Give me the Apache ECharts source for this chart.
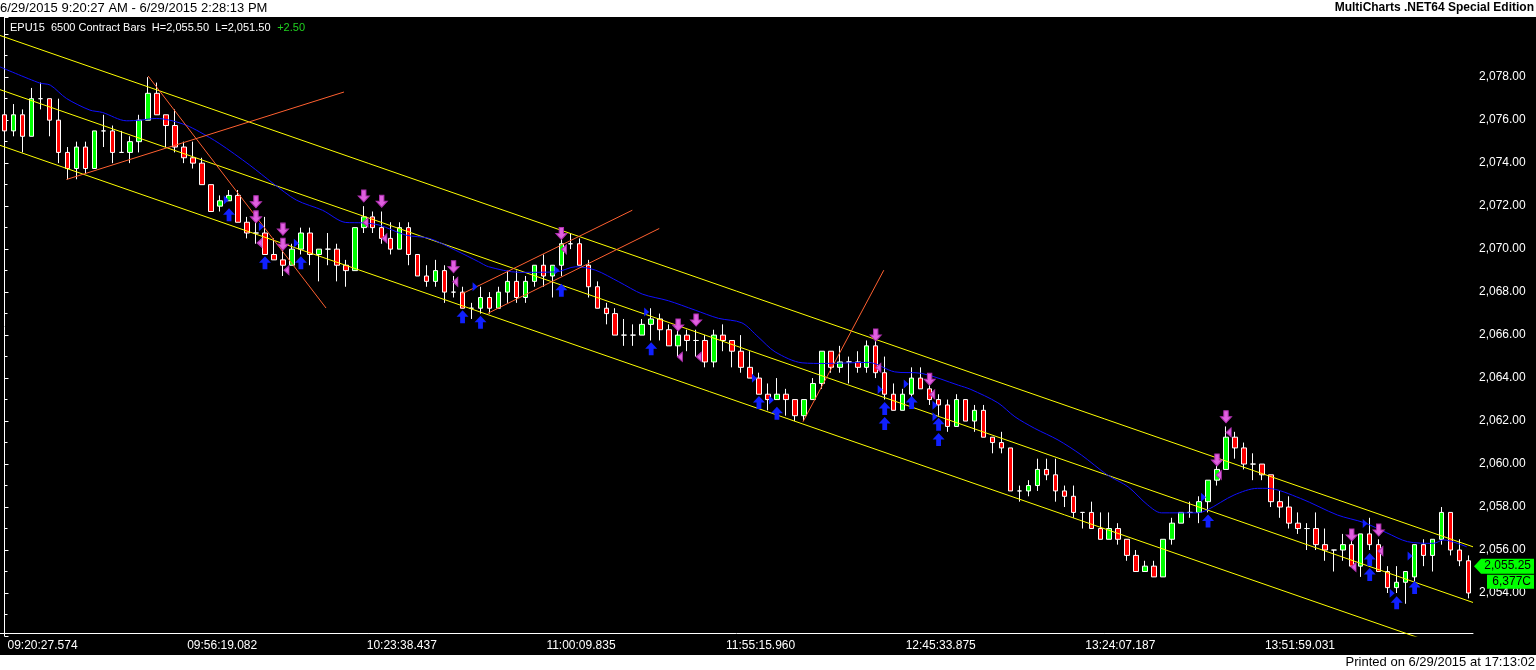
<!DOCTYPE html>
<html>
<head>
<meta charset="utf-8">
<script src="https://cdn.jsdelivr.net/npm/echarts@6/dist/echarts.min.js"></script>
<style>
  html, body { margin: 0; padding: 0; background: #000; }
  #chart { width: 1536px; height: 670px; }
</style>
</head>
<body>
<div id="chart"></div>
<script>
// EPU15 6500 contract bars, 6/29/2015
const openP = [
  2076.25, 2075.5, 2076.25, 2075.25, 2077, 2077, 2076, 2074.5, 2073.75, 2074.75,
  2073.75, 2075.5, 2075.5, 2074.5, 2074.5, 2075, 2076, 2077.25, 2076.25, 2075.75,
  2074.75, 2074.25, 2074, 2073, 2072, 2072.25, 2072.5, 2071.25, 2070.75, 2070.75,
  2069.75, 2069.5, 2069.25, 2070, 2070.75, 2069.75, 2070, 2070, 2069.25, 2069,
  2071, 2071.5, 2071, 2070.5, 2070, 2071, 2069.75, 2068.75, 2068.5, 2069,
  2068, 2068, 2067.25, 2067.25, 2067.75, 2067.25, 2068, 2068.5, 2067.75, 2068.5,
  2069.25, 2068.75, 2069.25, 2070.25, 2070.25, 2069.25, 2068.25, 2067.25, 2067, 2066,
  2066, 2066, 2066.5, 2066.75, 2066.25, 2065.5, 2066, 2065.75, 2065.75, 2064.75,
  2066, 2065.75, 2065.25, 2064.5, 2064, 2063.25, 2063, 2063.25, 2063, 2062.25,
  2063, 2063.75, 2065.25, 2064.5, 2064.75, 2064.75, 2064.5, 2065.5, 2064.25, 2063.25,
  2062.5, 2063.25, 2064, 2063.5, 2063, 2062.75, 2061.75, 2063, 2062, 2062.5,
  2061.25, 2061, 2060.75, 2058.75, 2058.75, 2059, 2059.75, 2059.5, 2058.75, 2058.5,
  2057.75, 2057.75, 2057, 2056.5, 2057, 2056.5, 2055.75, 2055, 2055.25, 2054.75,
  2056.5, 2057.25, 2057.75, 2057.75, 2058.25, 2059.25, 2059.75, 2061.25, 2060.75, 2060,
  2060, 2059.5, 2058.25, 2058, 2057.25, 2057, 2057, 2056.25, 2056, 2056,
  2056.25, 2055.25, 2056.75, 2056.25, 2055, 2054.25, 2054.5, 2054.75, 2056.25, 2055.75,
  2056.5, 2057.75, 2056, 2055.5
];
const closeP = [
  2075.5, 2076.25, 2075.25, 2077, 2077, 2076, 2074.5, 2073.75, 2074.75, 2073.75,
  2075.5, 2075.5, 2074.5, 2074.5, 2075, 2076, 2077.25, 2076.25, 2075.75, 2074.75,
  2074.25, 2074, 2073, 2071.75, 2072.25, 2072.5, 2071.25, 2070.75, 2070.75, 2069.75,
  2069.5, 2069.25, 2070, 2070.75, 2069.75, 2070, 2070, 2069.25, 2069, 2071,
  2071.5, 2071, 2070.5, 2070, 2071, 2069.75, 2068.75, 2068.5, 2069, 2068,
  2068, 2067.25, 2067.25, 2067.75, 2067.25, 2068, 2068.5, 2067.75, 2068.5, 2069.25,
  2068.75, 2069.25, 2070.25, 2070.25, 2069.25, 2068.25, 2067.25, 2067, 2066, 2066,
  2066, 2066.5, 2066.75, 2066.25, 2065.5, 2066, 2065.75, 2065.75, 2064.75, 2066,
  2065.75, 2065.25, 2064.5, 2064, 2063.25, 2063, 2063.25, 2063, 2062.25, 2063,
  2063.75, 2065.25, 2064.5, 2064.75, 2064.75, 2064.5, 2065.5, 2064.25, 2063.25, 2062.5,
  2063.25, 2064, 2063.5, 2063, 2062.75, 2061.75, 2063, 2062, 2062.5, 2061.25,
  2061, 2060.75, 2058.75, 2058.75, 2059, 2059.75, 2059.5, 2058.75, 2058.5, 2057.75,
  2057.75, 2057, 2056.5, 2057, 2056.5, 2055.75, 2055, 2055.25, 2054.75, 2056.5,
  2057.25, 2057.75, 2057.75, 2058.25, 2059.25, 2059.75, 2061.25, 2060.75, 2060, 2060,
  2059.5, 2058.25, 2058, 2057.25, 2057, 2057, 2056.25, 2056, 2056, 2056.25,
  2055.25, 2056.75, 2056.25, 2055, 2054.25, 2054.5, 2055, 2056.25, 2055.75, 2056.5,
  2057.75, 2056, 2055.5, 2054
];
const lowP = [
  2075.25, 2075.25, 2074.5, 2075.25, 2076.5, 2075.25, 2074, 2073.25, 2073.25, 2073.5,
  2073.75, 2074.75, 2074, 2074.5, 2074, 2074.5, 2076, 2076.25, 2074.75, 2074.5,
  2074, 2073.75, 2073, 2071.75, 2071.75, 2072.25, 2071.25, 2070.5, 2070.25, 2069.75,
  2069.5, 2068.75, 2069.25, 2069.75, 2069.25, 2068.5, 2069.25, 2068.5, 2068.25, 2069,
  2070.75, 2070.75, 2070.25, 2069.75, 2070, 2069.25, 2068.75, 2068.25, 2068.25, 2067.5,
  2067.75, 2067.25, 2066.75, 2067, 2067, 2067.25, 2067.5, 2067.5, 2067.5, 2068.25,
  2068.25, 2067.75, 2068.75, 2070, 2069.25, 2067.75, 2067.25, 2066.5, 2066, 2065.5,
  2065.5, 2066, 2065.75, 2065.75, 2065.5, 2065, 2065.25, 2065, 2064.5, 2064.5,
  2065.25, 2064.5, 2064.25, 2064, 2063.25, 2062.5, 2063, 2062.25, 2062, 2062,
  2063, 2063.5, 2064.25, 2064.25, 2063.75, 2064.25, 2064.25, 2064, 2063, 2062.5,
  2062.5, 2063, 2063.5, 2062.75, 2062.25, 2061.5, 2061.75, 2062, 2061.5, 2061.25,
  2060.5, 2060.5, 2058.75, 2058.25, 2058.5, 2058.75, 2059.25, 2058.25, 2058, 2057.5,
  2057, 2057, 2056.5, 2056.5, 2056.25, 2055.5, 2055, 2055, 2054.75, 2054.75,
  2056.25, 2057.25, 2057.5, 2057.25, 2057.75, 2059, 2059.75, 2060.25, 2059.75, 2059.25,
  2059.25, 2058, 2057.5, 2057, 2056.75, 2056, 2056, 2055.5, 2055, 2055.5,
  2055.25, 2054.75, 2056, 2055, 2054, 2054, 2053.5, 2054.5, 2055.25, 2055,
  2056.25, 2055.75, 2055.25, 2053.75
];
const highP = [
  2076.75, 2076.75, 2076.5, 2077.5, 2077.75, 2077, 2077, 2074.75, 2075, 2075,
  2075.5, 2076.25, 2075.75, 2075.5, 2075.25, 2076.25, 2078, 2077.75, 2076.25, 2076.5,
  2075, 2075, 2074.25, 2073, 2072.5, 2072.75, 2072.75, 2071.5, 2071.5, 2071.5,
  2070.5, 2070, 2070.25, 2071, 2071, 2070, 2070.75, 2070.25, 2069.5, 2071,
  2072, 2071.75, 2071.75, 2071.25, 2071.25, 2071.25, 2069.75, 2069.25, 2069.5, 2069.25,
  2068.75, 2068.25, 2067.5, 2068.25, 2068, 2068.25, 2069, 2069, 2068.75, 2069.25,
  2069.75, 2069.25, 2070.75, 2070.75, 2070.5, 2069.5, 2068.5, 2067.5, 2067.25, 2066.75,
  2066.5, 2066.75, 2067.25, 2067, 2066.5, 2066.25, 2066.25, 2066.25, 2066, 2066.25,
  2066.5, 2065.75, 2066, 2065.25, 2064.25, 2063.75, 2064, 2063.5, 2063, 2063,
  2064, 2065.25, 2065.25, 2065.5, 2065, 2065.25, 2065.75, 2065.75, 2065, 2063.75,
  2063.5, 2064.5, 2064.5, 2063.75, 2063.25, 2063, 2063.25, 2063, 2062.75, 2062.75,
  2061.25, 2061.5, 2060.75, 2059, 2059.25, 2060.25, 2060.25, 2060.25, 2059, 2059,
  2057.75, 2058.25, 2057.75, 2057.75, 2057.25, 2056.5, 2056, 2055.5, 2055.5, 2056.5,
  2057.5, 2057.75, 2058.25, 2058.5, 2059.25, 2060, 2061.75, 2061.5, 2061, 2060.5,
  2060, 2059.5, 2058.75, 2058.5, 2057.75, 2057.25, 2057.75, 2057, 2056, 2056.75,
  2056.75, 2056.75, 2057.5, 2056.5, 2055.25, 2055.25, 2055, 2056.25, 2056.5, 2056.5,
  2058, 2057.75, 2056.5, 2055.75
];

// time labels every 20 bars
const timeLabels = ['09:20:27.574', '09:56:19.082', '10:23:38.437', '11:00:09.835',
  '11:55:15.960', '12:45:33.875', '13:24:07.187', '13:51:59.031'];

// moving average, read as [bar, price]
const maPoints = [
  [-0.5, 2078.48], [3.9, 2077.73], [5.1, 2077.63], [6.9, 2077.01], [9.5, 2076.47],
  [10.9, 2076.36], [13.6, 2075.97], [15.1, 2076.0], [16.9, 2076.08], [18.4, 2076.0],
  [20.2, 2075.77], [21.7, 2075.46], [23.9, 2074.92], [27.3, 2073.91], [29.9, 2073.06],
  [32.5, 2072.28], [35.4, 2071.81], [38.0, 2071.24], [39.9, 2071.22], [41.7, 2071.12],
  [44.7, 2070.65], [47.3, 2070.5], [50.2, 2069.95], [52.8, 2069.41], [53.9, 2069.18],
  [57.3, 2068.92], [61.4, 2068.94], [63.6, 2069.18], [65.8, 2069.02], [68.4, 2068.48],
  [71.0, 2067.91], [73.9, 2067.6], [76.9, 2067.16], [79.5, 2066.78], [82.1, 2066.57],
  [83.9, 2065.92], [85.8, 2065.22], [88.8, 2064.71], [91.4, 2064.68], [96.2, 2064.73],
  [99.1, 2064.29], [102.1, 2064.22], [106.2, 2063.67], [107.6, 2063.47], [110.6, 2062.85],
  [112.5, 2062.2], [114.7, 2061.66], [117.3, 2061.12], [119.9, 2060.42], [122.8, 2059.49],
  [125.1, 2058.94], [127.3, 2058.09], [128.8, 2057.73], [132.8, 2057.73], [133.9, 2057.86],
  [136.9, 2058.56], [139.5, 2058.87], [140.6, 2058.87], [144.3, 2058.4], [148.4, 2057.63],
  [151.4, 2057.27], [153.9, 2056.8], [156.2, 2056.39], [159.1, 2056.31], [160.2, 2056.47],
  [162.8, 2056.15]
];

// regression channel end points
const channelTop = [[-0.5, 2079.94], [163.5, 2056.15]];
const channelMid = [[-0.5, 2077.42], [163.5, 2053.56]];
const channelBot = [[-0.5, 2074.83], [163.5, 2051.04]];

// hand drawn trend lines
const trendLines = [
  [[6.9, 2073.24], [37.8, 2077.31]],
  [[16.0, 2078.05], [35.8, 2067.26]],
  [[50.9, 2067.91], [69.9, 2071.81]],
  [[53.8, 2067.01], [72.9, 2070.96]],
  [[88.9, 2061.97], [97.9, 2069.02]]
];

// strategy signals [bar, price]
const sellArrows = [
  [28, 2072.2], [28, 2071.5], [31, 2070.93], [31, 2070.23], [40, 2072.47], [42, 2072.23],
  [50, 2069.18], [62, 2070.73], [75, 2066.47], [77, 2066.7], [97, 2066.0], [103, 2063.94],
  [136, 2062.2], [135, 2060.19], [150, 2056.7], [153, 2056.93]
];
const buyArrows = [
  [25, 2071.6], [29, 2069.37], [33, 2069.37], [51, 2066.85], [53, 2066.6], [62, 2068.09],
  [72, 2065.36], [84, 2062.86], [86, 2062.36], [98, 2062.58], [98, 2061.89], [101, 2062.86],
  [104, 2061.85], [104, 2061.14], [134, 2057.35], [152, 2055.56], [152, 2054.86],
  [155, 2053.55], [157, 2054.26]
];
const buyTicks = [
  [24.7, 2072.28], [28.6, 2071.04], [32.5, 2070.27], [52.4, 2068.25], [61.5, 2069.02],
  [71.5, 2067.08], [83.5, 2063.99], [85.4, 2062.98], [97.5, 2063.47], [100.4, 2063.72],
  [103.6, 2062.74], [103.6, 2062.2], [133.5, 2058.45], [151.5, 2057.23], [154.5, 2053.99],
  [156.5, 2055.72]
];
const sellTicks = [
  [28.4, 2070.29], [31.4, 2069.02], [40.2, 2071.24], [42.3, 2070.5], [50.2, 2068.48],
  [62.3, 2069.99], [75.2, 2064.99], [77.3, 2064.99], [97.3, 2064.48], [103.3, 2063.24],
  [136.3, 2061.47], [135.2, 2059.49], [150.2, 2055.21], [153.2, 2055.95]
];

const lastPrice = 2055.25;
const lastVolume = '6,377C';

const bars = openP.map((o, i) => [o, closeP[i], lowP[i], highP[i]]);
const cats = openP.map((_, i) => String(i));

const chart = echarts.init(document.getElementById('chart'));

const lineSeries = (data, color) => ({
  type: 'line', xAxisIndex: 1, data: data, symbol: 'none', silent: true,
  lineStyle: {color: color, width: 1}, animation: false
});

const series = [
  lineSeries(channelTop, '#ffff00'),
  lineSeries(channelMid, '#ffff00'),
  lineSeries(channelBot, '#ffff00'),
  Object.assign(lineSeries(maPoints, '#1010ff'), {smooth: 0.3}),
  {
    type: 'candlestick',
    data: bars,
    barWidth: 5,
    itemStyle: {
      color: '#00ff00', color0: '#ff0000',
      borderColor: '#ffffff', borderColor0: '#ffffff', borderColorDoji: '#ffffff',
      borderWidth: 1
    },
    animation: false
  }
];
trendLines.forEach(t => series.push(lineSeries(t, '#ff6030')));

const scatter = (data, path, size, color, border) => ({
  type: 'scatter', xAxisIndex: 1, data: data, symbol: path, symbolSize: size,
  itemStyle: {color: color, borderColor: border, borderWidth: border ? 1 : 0, opacity: 1},
  animation: false, z: 5
});
series.push(scatter(sellArrows, 'path://M3,0 L7,0 L7,6 L10,6 L5,12 L0,6 L3,6 Z', [11, 12], '#e060e0', '#b030b0'));
series.push(scatter(buyArrows, 'path://M5,0 L10,6 L7,6 L7,12 L3,12 L3,6 L0,6 Z', [12, 13], '#1020ff'));
series.push(scatter(buyTicks, 'path://M0,0 L6,5 L0,10 Z', [5, 9], '#1020ff'));
series.push(scatter(sellTicks, 'path://M6,0 L0,5 L6,10 Z', [5, 9], '#e060e0', '#b030b0'));

const fmtPrice = v => v.toLocaleString('en-US', {minimumFractionDigits: 2, maximumFractionDigits: 2});

chart.setOption({
  backgroundColor: '#000000',
  animation: false,
  grid: {left: 0, right: 63, top: 17, bottom: 34, containLabel: false, outerBoundsMode: 'none'},
  xAxis: [
    {
      type: 'category',
      data: cats,
      offset: -3,
      axisLine: {lineStyle: {color: '#ffffff', width: 1}},
      axisTick: {
        alignWithLabel: true, length: 3,
        interval: (i) => i % 20 === 0,
        lineStyle: {color: '#ffffff'}
      },
      axisLabel: {
        interval: (i) => i % 20 === 0,
        formatter: (v, i) => timeLabels[i / 20] || '',
        color: '#ffffff', fontSize: 12, fontFamily: 'Liberation Sans, Arial',
        align: 'left', padding: [0, 0, 0, 3], margin: 7
      },
      splitLine: {show: false}
    },
    {type: 'value', min: -0.5, max: 163.5, show: false}
  ],
  yAxis: {
    type: 'value',
    position: 'right',
    min: 2052, max: 2080.8, interval: 2,
    axisLine: {show: true, lineStyle: {color: '#ffffff', width: 1}},
    axisTick: {show: true, length: 4, lineStyle: {color: '#ffffff'}},
    minorTick: {show: true, splitNumber: 2, length: 3, lineStyle: {color: '#ffffff'}},
    splitLine: {show: false},
    axisLabel: {
      color: '#ffffff', fontSize: 12, fontFamily: 'Liberation Sans, Arial', margin: 6,
      formatter: v => (v > 2079 || v < 2053) ? '' : fmtPrice(v)
    }
  },
  series: series
});

// overlays: header, footer, last price tag
const yLast = chart.convertToPixel({yAxisIndex: 0}, lastPrice);
chart.setOption({
  graphic: [
    {type: 'rect', shape: {x: 1474, y: 17, width: 62, height: 42}, style: {fill: '#000'}, z: 100},
    {type: 'rect', shape: {x: 0, y: 0, width: 1536, height: 17}, style: {fill: '#fff'}, z: 100},
    {type: 'text', x: 0, y: 2, z: 101,
      style: {text: '6/29/2015 9:20:27 AM - 6/29/2015 2:28:13 PM', fill: '#000',
        font: '13px "Liberation Sans", Arial'}},
    {type: 'text', x: 1534, y: 2, z: 101,
      style: {text: 'MultiCharts .NET64 Special Edition', fill: '#000', align: 'right',
        font: 'bold 12px "Liberation Sans", Arial'}},
    {type: 'rect', shape: {x: 0, y: 655, width: 1536, height: 15}, style: {fill: '#fff'}, z: 100},
    {type: 'text', x: 1535, y: 656, z: 101,
      style: {text: 'Printed on 6/29/2015 at 17:13:02', fill: '#000', align: 'right',
        font: '13px "Liberation Sans", Arial'}},
    {type: 'text', x: 10, y: 22, z: 101,
      style: {
        text: '{w|EPU15  6500 Contract Bars  H=2,055.50  L=2,051.50}  {g|+2.50}',
        rich: {
          w: {fill: '#ffffff', font: '11px "Liberation Sans", Arial'},
          g: {fill: '#20d020', font: '11px "Liberation Sans", Arial'}
        }
      }},
    {type: 'polygon', z: 101,
      shape: {points: [[1474, yLast], [1481, yLast - 7.5], [1534, yLast - 7.5], [1534, yLast + 7.5], [1481, yLast + 7.5]]},
      style: {fill: '#00ff00'}},
    {type: 'text', x: 1531, y: yLast, z: 102,
      style: {text: fmtPrice(lastPrice), fill: '#000', align: 'right', verticalAlign: 'middle',
        font: '12px "Liberation Sans", Arial'}},
    {type: 'rect', z: 101, shape: {x: 1487, y: yLast + 8.5, width: 47, height: 14}, style: {fill: '#00ff00'}},
    {type: 'text', x: 1531, y: yLast + 15.5, z: 102,
      style: {text: lastVolume, fill: '#000', align: 'right', verticalAlign: 'middle',
        font: '12px "Liberation Sans", Arial'}}
  ]
});
</script>
</body>
</html>
